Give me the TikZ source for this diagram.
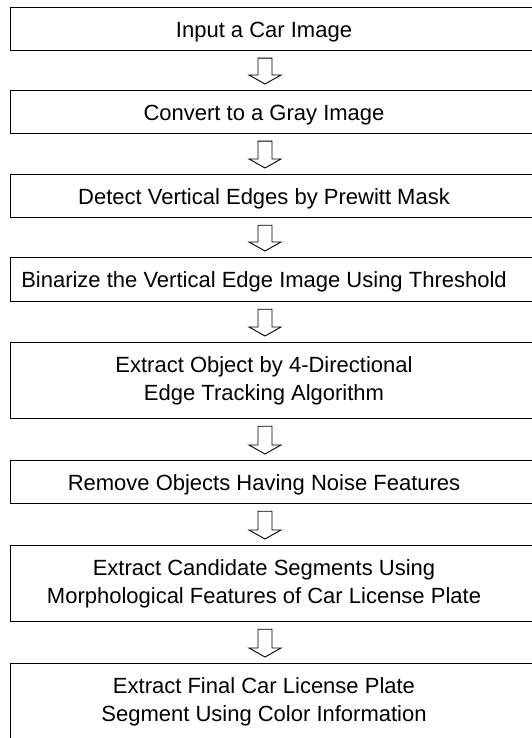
\documentclass[tikz,border=0pt]{standalone}
\usepackage{fontspec}
\setmainfont{Liberation Sans}
\usetikzlibrary{calc}
\newcommand\blockarrow[2]{%
  \path[barrow] let \p1=(#1.south), \p2=(#2.north) in
    (258pt,\y1-7pt) -- (258pt,\y2+15pt) -- (249pt,\y2+15pt) -- (265pt,\y2+6pt)
    -- (281pt,\y2+15pt) -- (272pt,\y2+15pt) -- (272pt,\y1-7pt) -- cycle;}
\begin{document}
\begin{tikzpicture}[x=1pt,y=-1pt,
  box/.style={draw, line width=1.2pt, minimum width=540pt, inner sep=0pt, anchor=north west},
  lbl/.style={font=\fontsize{22pt}{28pt}\selectfont, align=center, inner sep=0pt},
  barrow/.style={draw, line width=0.9pt, fill=white}]
\useasboundingbox (0,0) rectangle (532,738);
\clip (0,0) rectangle (532,738);
\node[box, minimum height=43pt] (b1) at (10,7) {};
\node[box, minimum height=43pt] (b2) at (10,90) {};
\node[box, minimum height=43pt] (b3) at (10,174) {};
\node[box, minimum height=44pt] (b4) at (10,257) {};
\node[box, minimum height=76pt] (b5) at (10,342) {};
\node[box, minimum height=43pt] (b6) at (10,460) {};
\node[box, minimum height=76pt] (b7) at (10,545) {};
\node[box, minimum height=76pt] (b8) at (10,663) {};
\node[lbl] (t1) at (264,32) {Input a Car Image};
\node[lbl] (t2) at (264,115) {Convert to a Gray Image};
\node[lbl] (t3) at (264,199) {Detect Vertical Edges by Prewitt Mask};
\node[lbl] (t4) at (264,282) {Binarize the Vertical Edge Image Using Threshold};
\node[lbl] (t5) at (264,381) {Extract Object by 4-Directional\\Edge Tracking Algorithm};
\node[lbl] (t6) at (264,485) {Remove Objects Having Noise Features};
\node[lbl] (t7) at (264,584) {Extract Candidate Segments Using\\Morphological Features of Car License Plate};
\node[lbl] (t8) at (264,702) {Extract Final Car License Plate\\Segment Using Color Information};
\blockarrow{b1}{b2}
\blockarrow{b2}{b3}
\blockarrow{b3}{b4}
\blockarrow{b4}{b5}
\blockarrow{b5}{b6}
\blockarrow{b6}{b7}
\blockarrow{b7}{b8}
\end{tikzpicture}
\end{document}
